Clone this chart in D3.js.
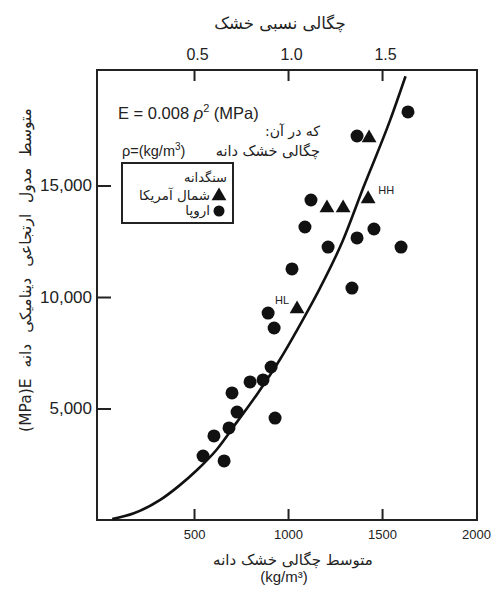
<!DOCTYPE html>
<html>
<head>
<meta charset="utf-8">
<script src="https://cdn.jsdelivr.net/npm/d3@7"></script>
<style>
  body { margin: 0; background: #fff; }
  svg { display: block; }
  .num { font-family: "Liberation Sans", Arial, sans-serif; fill: #222; }
  .fa { font-family: "DejaVu Sans", sans-serif; fill: #222; }
</style>
</head>
<body>
<svg id="chart" width="492" height="590"></svg>
<script>
// Europe (circles): density kg/m3, modulus MPa
var europeDensity = [548, 606, 660, 686, 702, 729, 798, 867, 910, 931, 894, 926, 1021, 1090, 1122, 1213, 1367, 1367, 1457, 1601, 1340, 1638];
var europeModulus = [2870, 3770, 2650, 4130, 5700, 4840, 6190, 6280, 6860, 4570, 9280, 8610, 11260, 13140, 14350, 12240, 12650, 17220, 13050, 12240, 10400, 18300];

// North America (triangles)
var naDensity = [1048, 1207, 1293, 1426, 1431];
var naModulus = [9460, 13990, 13990, 14400, 17130];
var naLabels = ["HL", "", "", "HH", ""];

// fitted curve
var curveDensity = [65, 180, 320, 420, 516, 620, 729, 840, 957, 1080, 1170, 1290, 1400, 1543, 1625];
var curveModulus = [40, 300, 900, 1530, 2240, 3150, 4400, 5700, 7200, 9000, 10400, 12500, 14900, 17930, 19900];

var xTicks = [500, 1000, 1500, 2000];
var topTicks = [500, 1000, 1500];
var topTickLabels = ["0.5", "1.0", "1.5"];
var yTicks = [5000, 10000, 15000];

function drawChart() {
    var svg = d3.select("#chart");
    var mLeft = 97, mRight = 477, mTop = 70, mBottom = 520;

    var x = d3.scaleLinear().domain([-16, 2005]).range([mLeft, mRight]);
    var y = d3.scaleLinear().domain([0, 20180]).range([mBottom, mTop]);

    // frame
    svg.append("rect")
        .attr("x", mLeft).attr("y", mTop)
        .attr("width", mRight - mLeft).attr("height", mBottom - mTop)
        .attr("fill", "none").attr("stroke", "#222").attr("stroke-width", 2);

    // bottom axis (ticks inside)
    var xAxis = svg.append("g").attr("transform", "translate(0," + mBottom + ")")
        .call(d3.axisBottom(x).tickValues(xTicks).tickSizeInner(-11).tickSizeOuter(0).tickPadding(10)
            .tickFormat(d3.format("d")));
    xAxis.select(".domain").remove();
    xAxis.selectAll(".tick line").attr("stroke", "#222").attr("stroke-width", 2)
        .filter(function(d) { return d === 2000; }).remove();
    xAxis.selectAll(".tick text").attr("class", "num").style("font-size", "13px");

    // top axis
    var tAxis = svg.append("g").attr("transform", "translate(0," + mTop + ")")
        .call(d3.axisTop(x).tickValues(topTicks).tickSizeInner(-11).tickSizeOuter(0).tickPadding(10)
            .tickFormat(function(d, i) { return topTickLabels[i]; }));
    tAxis.select(".domain").remove();
    tAxis.selectAll(".tick line").attr("stroke", "#222").attr("stroke-width", 2);
    tAxis.selectAll(".tick text").attr("class", "num").style("font-size", "16px").attr("dx", 3);

    // left axis
    var yAxis = svg.append("g").attr("transform", "translate(" + mLeft + ",0)")
        .call(d3.axisLeft(y).tickValues(yTicks).tickSizeInner(-14).tickSizeOuter(0).tickPadding(6)
            .tickFormat(d3.format(",")));
    yAxis.select(".domain").remove();
    yAxis.selectAll(".tick line").attr("stroke", "#222").attr("stroke-width", 2);
    yAxis.selectAll(".tick text").attr("class", "num").style("font-size", "17px").attr("x", -5);

    // axis titles
    svg.append("text").attr("class", "fa")
        .attr("x", 280).attr("y", 29).attr("text-anchor", "middle")
        .style("font-size", "16.5px").text("چگالی نسبی خشک");

    svg.append("text").attr("class", "fa")
        .attr("x", 293).attr("y", 565).attr("text-anchor", "middle")
        .style("font-size", "15px").text("متوسط چگالی خشک دانه");
    svg.append("text").attr("class", "num")
        .attr("x", 284).attr("y", 582).attr("text-anchor", "middle")
        .style("font-size", "15px").text("(kg/m³)");

    svg.append("text").attr("class", "fa")
        .attr("transform", "translate(31,270) rotate(-90)")
        .attr("text-anchor", "middle").attr("direction", "ltr")
        .style("font-size", "15.5px").style("word-spacing", "6px")
        .text("(MPa)E متوسط مدول ارتجاعی دینامیکی دانه");

    // formula
    var f = svg.append("text").attr("class", "num")
        .attr("x", 118).attr("y", 119).style("font-size", "16.5px");
    f.append("tspan").text("E = 0.008 ");
    f.append("tspan").style("font-style", "italic").text("ρ");
    f.append("tspan").attr("dy", -7).style("font-size", "11px").text("2");
    f.append("tspan").attr("dy", 7).text(" (MPa)");

    svg.append("text").attr("class", "fa")
        .attr("x", 320).attr("y", 136).attr("text-anchor", "end")
        .style("font-size", "14px").text("که در آن:\u200F");
    svg.append("text").attr("class", "num")
        .attr("x", 122).attr("y", 156).style("font-size", "14.5px")
        .html("ρ=(kg/m<tspan dy='-6' font-size='10px'>3</tspan><tspan dy='6'>)</tspan>");
    svg.append("text").attr("class", "fa")
        .attr("x", 320).attr("y", 156).attr("text-anchor", "end")
        .style("font-size", "14.5px").text("چگالی خشک دانه");

    // curve
    var line = d3.line()
        .x(function(d) { return x(d[0]); })
        .y(function(d) { return y(d[1]); })
        .curve(d3.curveMonotoneX);
    svg.append("path")
        .datum(curveDensity.map(function(d, i) { return [d, curveModulus[i]]; }))
        .attr("d", line)
        .attr("fill", "none").attr("stroke", "#111").attr("stroke-width", 2.6);

    // points
    var europe = europeDensity.map(function(d, i) { return {x: d, y: europeModulus[i]}; });
    svg.append("g").selectAll("circle")
        .data(europe)
        .enter().append("circle")
        .attr("cx", function(d) { return x(d.x); })
        .attr("cy", function(d) { return y(d.y); })
        .attr("r", 6.5)
        .attr("fill", "#111");

    var tri = d3.symbol().type(d3.symbolTriangle).size(95);
    var na = naDensity.map(function(d, i) { return {x: d, y: naModulus[i], label: naLabels[i]}; });
    svg.append("g").selectAll("path")
        .data(na)
        .enter().append("path")
        .attr("d", tri)
        .attr("transform", function(d) { return "translate(" + x(d.x) + "," + y(d.y) + ")"; })
        .attr("fill", "#111");

    svg.append("g").selectAll("text")
        .data(na.filter(function(d) { return d.label; }))
        .enter().append("text")
        .attr("class", "num")
        .attr("x", function(d) { return x(d.x) + (d.label === "HH" ? 18 : -15); })
        .attr("y", function(d) { return y(d.y) - 5; })
        .attr("text-anchor", "middle")
        .style("font-size", "11px")
        .text(function(d) { return d.label; });

    // legend
    var lg = svg.append("g");
    lg.append("rect").attr("x", 122).attr("y", 163).attr("width", 111).attr("height", 60)
        .attr("fill", "#fff").attr("stroke", "#222").attr("stroke-width", 2);
    lg.append("text").attr("class", "fa").attr("x", 227).attr("y", 182)
        .attr("text-anchor", "end").style("font-size", "13px").text("سنگدانه");
    lg.append("path").attr("d", tri).attr("transform", "translate(219,196)").attr("fill", "#111");
    lg.append("text").attr("class", "fa").attr("x", 210).attr("y", 200)
        .attr("text-anchor", "end").style("font-size", "13.5px").text("شمال آمریکا");
    lg.append("circle").attr("cx", 219).attr("cy", 211).attr("r", 5.5).attr("fill", "#111");
    lg.append("text").attr("class", "fa").attr("x", 210).attr("y", 215)
        .attr("text-anchor", "end").style("font-size", "13.5px").text("اروپا");
}

drawChart();
</script>
</body>
</html>
